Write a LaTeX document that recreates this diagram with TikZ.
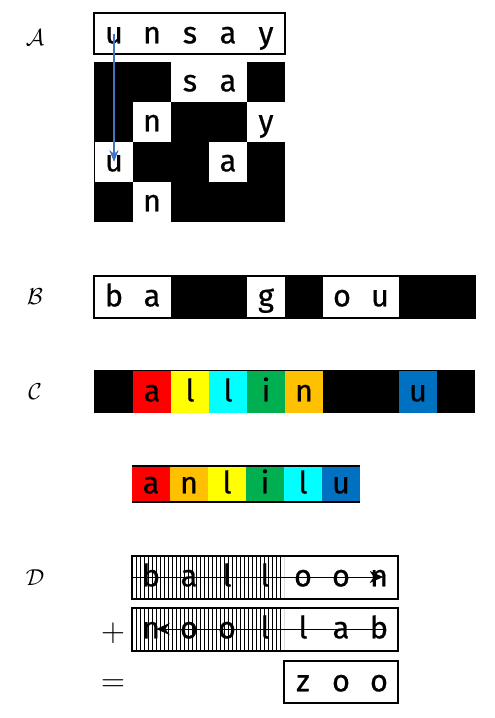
\documentclass[tikz,border=0pt]{standalone}
\usepackage{fontspec}
\newfontfamily\kidsfont[FakeBold=0.7]{Fira Sans}
\usetikzlibrary{patterns,arrows.meta}
\definecolor{cred}{HTML}{FF0000}
\definecolor{cyellow}{HTML}{FFFF00}
\definecolor{ccyan}{HTML}{00FFFF}
\definecolor{cgreen}{HTML}{00B050}
\definecolor{corange}{HTML}{FFC000}
\definecolor{cblue}{HTML}{0070C0}
\definecolor{arrowblue}{HTML}{4472C4}
\tikzset{
  ltr/.style={anchor=center, inner sep=0pt, minimum width=28.5pt, minimum height=30pt,
    text height=17pt, text depth=3pt, font=\kidsfont\fontsize{23}{27}\selectfont},
  sq/.style={ltr, fill=white},
  tag/.style={font=\fontsize{18}{18}\selectfont},
  frame/.style={draw, line width=1.5pt},
}
\begin{document}
\begin{tikzpicture}[x=0.75pt, y=-0.75pt]
\useasboundingbox (0,0) rectangle (494,718);

% A : word on top, scattered letters below
\node[tag] (tagA) at (35,38) {$\mathcal{A}$};
\draw[frame] (94,13) rectangle (285,54);
\node[ltr] (t1) at (114,34) {u};
\node[ltr] (t2) at (152,34) {n};
\node[ltr] (t3) at (190,34) {s};
\node[ltr] (t4) at (228,34) {a};
\node[ltr] (t5) at (266,34) {y};

\fill (94,62) rectangle (285,222);
\node[sq] (g13) at (190,82) {s};
\node[sq] (g14) at (228,82) {a};
\node[sq] (g22) at (152,122) {n};
\node[sq] (g25) at (266,122) {y};
\node[sq] (g31) at (114,162) {u};
\node[sq] (g34) at (228,162) {a};
\node[sq] (g42) at (152,202) {n};

\draw[arrowblue, line width=0.8pt, -{Stealth[length=9pt,width=7pt]}] (t1.center) -- (g31.center);

% B
\node[tag] (tagB) at (35,297) {$\mathcal{B}$};
\fill (94,276) rectangle (475,318);
\node[sq] (b1) at (114,297) {b};
\node[sq] (b2) at (152,297) {a};
\node[sq] (b5) at (266,297) {g};
\node[sq] (b7) at (342,297) {o};
\node[sq] (b8) at (380,297) {u};
\draw[frame] (94,276) rectangle (475,318);

% C
\node[tag] (tagC) at (35,392) {$\mathcal{C}$};
\fill (94,370) rectangle (475,413);
\node[ltr, fill=cred, minimum height=31pt] (c2) at (152,392) {a};
\node[ltr, fill=cyellow, minimum height=31pt] (c3) at (190,392) {l};
\node[ltr, fill=ccyan, minimum height=31pt] (c4) at (228,392) {l};
\node[ltr, fill=cgreen, minimum height=31pt] (c5) at (266,392) {i};
\node[ltr, fill=corange, minimum height=31pt] (c6) at (304,392) {n};
\node[ltr, fill=cblue, minimum height=31pt] (c9) at (418,392) {u};

% sorted
\node[ltr, fill=cred, minimum height=27pt] (r1) at (151,484) {a};
\node[ltr, fill=corange, minimum height=27pt] (r2) at (189,484) {n};
\node[ltr, fill=cyellow, minimum height=27pt] (r3) at (227,484) {l};
\node[ltr, fill=cgreen, minimum height=27pt] (r4) at (265,484) {i};
\node[ltr, fill=ccyan, minimum height=27pt] (r5) at (303,484) {l};
\node[ltr, fill=cblue, minimum height=27pt] (r6) at (341,484) {u};
\draw[line width=1.5pt] (r1.north west) -- (r6.north east);
\draw[line width=1.5pt] (r1.south west) -- (r6.south east);

% D
\node[tag] (tagD) at (35,578) {$\mathcal{D}$};
\fill[pattern=vertical lines] (132,556) rectangle (284,599);
\fill[pattern=vertical lines] (132,608) rectangle (284,651);
\draw[frame] (132,556) rectangle (398,599);
\draw[frame] (132,608) rectangle (398,651);
\draw[frame] (284,661) rectangle (398,703);

\node[ltr] (d11) at (151,577) {b};
\node[ltr] (d12) at (189,577) {a};
\node[ltr] (d13) at (227,577) {l};
\node[ltr] (d14) at (265,577) {l};
\node[ltr] (d15) at (303,577) {o};
\node[ltr] (d16) at (341,577) {o};
\node[ltr] (d17) at (379,577) {n};

\node[ltr] (d21) at (151,629) {n};
\node[ltr] (d22) at (189,629) {o};
\node[ltr] (d23) at (227,629) {o};
\node[ltr] (d24) at (265,629) {l};
\node[ltr] (d25) at (303,629) {l};
\node[ltr] (d26) at (341,629) {a};
\node[ltr] (d27) at (379,629) {b};

\node[ltr] (d35) at (303,682) {z};
\node[ltr] (d36) at (341,682) {o};
\node[ltr] (d37) at (379,682) {o};

\node (plus) at (113,633) {\fontsize{26}{26}\selectfont $+$};
\node (eq) at (113,686) {\fontsize{26}{26}\selectfont $=$};

\draw[line width=0.6pt, -{Stealth[length=10pt,width=9pt]}] (d11.west) -- ([xshift=3pt]d17.center);
\draw[line width=0.6pt, -{Stealth[length=10pt,width=9pt]}] ([xshift=3pt]d27.center) -- ([xshift=4pt]d21.center);
\end{tikzpicture}
\end{document}
